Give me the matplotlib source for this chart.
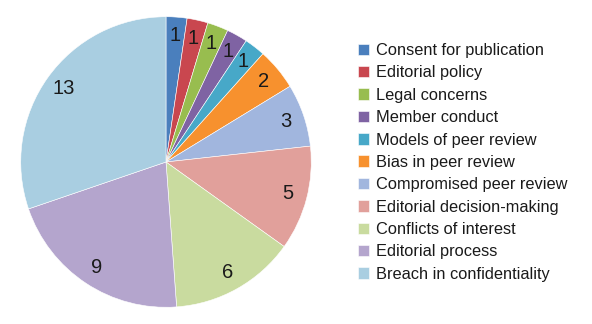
import matplotlib
matplotlib.use('Agg')
import matplotlib.pyplot as plt
import numpy as np

labels = ['Consent for publication', 'Editorial policy', 'Legal concerns', 'Member conduct',
          'Models of peer review', 'Bias in peer review', 'Compromised peer review',
          'Editorial decision-making', 'Conflicts of interest', 'Editorial process',
          'Breach in confidentiality']
counts = [1, 1, 1, 1, 1, 2, 3, 5, 6, 9, 13]
colors = ['#4a7fbd', '#c9474f', '#98bd4f', '#7f63a3', '#47a8c8', '#f7912e',
          '#a1b6de', '#e1a09b', '#c9db9f', '#b4a5cd', '#a9cee1']

plt.rcParams['font.family'] = ['Liberation Sans', 'DejaVu Sans']

fig = plt.figure(figsize=(5.92, 3.24), dpi=100)
ax = fig.add_axes([20 / 592, 16 / 324, 292 / 592, 292 / 324])

wedges, texts = ax.pie(counts, colors=colors, startangle=90, counterclock=False,
                       wedgeprops=dict(edgecolor='white', linewidth=0.4))
for w, c in zip(wedges, counts):
    mid = np.deg2rad((w.theta1 + w.theta2) / 2)
    r = 0.87
    ax.text(r * np.cos(mid), r * np.sin(mid), str(c), ha='center', va='center',
            fontsize=14.5, color='#1a1a1a')
ax.set_xlim(-1.005, 1.005)
ax.set_ylim(-1.005, 1.005)
ax.set_aspect('equal')

leg = fig.legend(wedges, labels, loc='upper left', bbox_to_anchor=(358 / 592, 1 - 43 / 324),
                 frameon=False, fontsize=11.8, handlelength=0.7, handleheight=0.7,
                 handletextpad=0.4, labelspacing=0.45, borderaxespad=0, borderpad=0)
for t in leg.get_texts():
    t.set_color('#1a1a1a')

fig.savefig('out.png', dpi=100)
